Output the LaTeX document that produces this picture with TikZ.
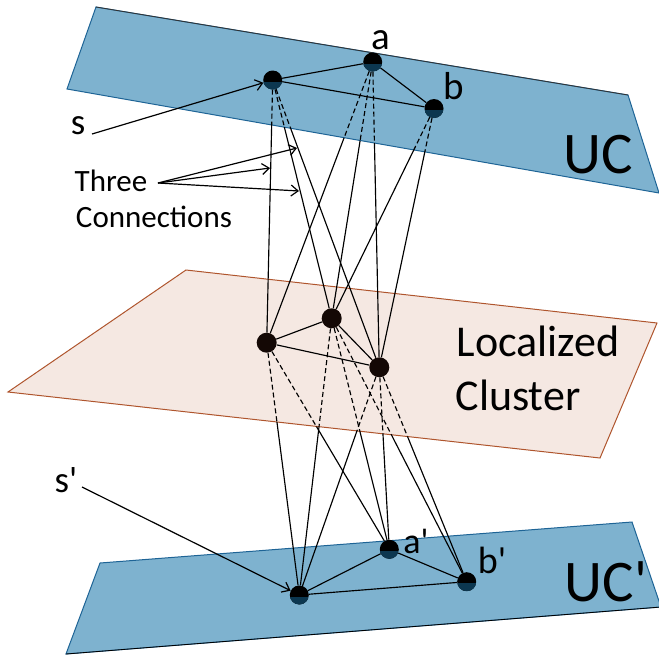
\documentclass[tikz,border=0pt]{standalone}
\usepackage{fontspec}
\newfontfamily\calfont{Carlito}
\usetikzlibrary{arrows.meta}
\pgfdeclarelayer{planes}
\pgfdeclarelayer{links}
\pgfsetlayers{planes,links,main}
\definecolor{planeblue}{RGB}{126,178,207}
\definecolor{planeedge}{RGB}{30,100,150}
\definecolor{clusterfill}{RGB}{245,232,226}
\definecolor{clusteredge}{RGB}{175,85,45}
\definecolor{nodeblue}{RGB}{12,55,80}
\definecolor{nodedark}{RGB}{20,8,5}
\begin{document}
\begin{tikzpicture}[x=1pt,y=-1pt,
  dotT/.style={circle,inner sep=0pt,minimum size=19pt,fill=black,
    path picture={\fill[nodeblue] ([yshift=-1.5pt]path picture bounding box.west) rectangle (path picture bounding box.south east);}},
  dotM/.style={circle,inner sep=0pt,minimum size=20pt,fill=nodedark},
  edge/.style={line width=1.15pt,draw=black},
  hid/.style={edge,dash pattern=on 5pt off 3pt},
  txt/.style={font={\calfont\fontsize{#1}{#1}\selectfont},inner sep=0pt},
  ptr/.style={line width=1.2pt,-{Straight Barb[length=7pt,width=11pt]}},
  bluePlane/.style={fill=planeblue,draw=planeedge,line width=1pt},
  clusterPlane/.style={fill=clusterfill,draw=clusteredge,line width=1pt}]
\useasboundingbox (0,0) rectangle (659,656);

% ---- nodes ----
\node[dotT] (s)  at (272.7,80)  {};
\node[dotT] (a)  at (372.7,62)  {};
\node[dotT] (b)  at (434,108.5) {};
\node[dotM] (m1) at (266.7,342.7) {};
\node[dotM] (m2) at (331.7,318.3) {};
\node[dotM] (m3) at (379.3,367.3) {};
\node[dotT] (sp) at (299.3,595) {};
\node[dotT] (ap) at (389.3,549.3) {};
\node[dotT] (bp) at (466.7,581.7) {};

% ---- planes ----
\begin{pgfonlayer}{planes}
  \path[bluePlane] (96,7) -- (628,95) -- (659,193) -- (67,89) -- cycle;
  \draw[line width=0.8pt,black!80] (96,7) -- (628,95);
  \path[clusterPlane] (186,270) -- (657,323) -- (600,458) -- (8,392) -- cycle;
  \path[bluePlane] (100,563) -- (632,522) -- (661,607) -- (66,654) -- cycle;
  \draw[line width=0.8pt,black] (661,607) -- (66,654);
\end{pgfonlayer}

% ---- links ----
\def\uplinks{s/m1,s/m2,s/m3,a/m1,a/m2,a/m3,b/m2,b/m3}
\def\downlinks{m1/sp,m1/ap,m2/sp,m2/ap,m2/bp,m3/sp,m3/ap,m3/bp}
\begin{pgfonlayer}{links}
  \begin{scope}
    \clip (0,0) -- (659,0) -- (659,193) -- (0,77.2) -- cycle;
    \foreach \u/\v in \uplinks {\draw[hid] (\u) -- (\v);}
  \end{scope}
  \begin{scope}
    \clip (0,77.2) -- (659,193) -- (659,656) -- (0,656) -- cycle;
    \foreach \u/\v in \uplinks {\draw[edge] (\u) -- (\v);}
  \end{scope}
  \begin{scope}
    \clip (0,0) -- (659,0) -- (659,464.6) -- (0,391.1) -- cycle;
    \foreach \u/\v in \downlinks {\draw[hid] (\u) -- (\v);}
  \end{scope}
  \begin{scope}
    \clip (0,391.1) -- (659,464.6) -- (659,656) -- (0,656) -- cycle;
    \foreach \u/\v in \downlinks {\draw[edge] (\u) -- (\v);}
  \end{scope}
  \draw[edge] (s) -- (a) -- (b) -- (s);
  \draw[edge] (m1) -- (m2) -- (m3) -- (m1);
  \draw[edge] (sp) -- (ap) -- (bp) -- (sp);
\end{pgfonlayer}

% ---- labels ----
\node[txt=39] (la) at (381,40) {a};
\node[txt=39] (lb) at (454,86) {b};
\node[txt=59] (luc) at (598,155) {UC};
\node[txt=37] (ls) at (78,126) {s};
\node[txt=31] (lthree) at (111,181) {Three};
\node[txt=31] (lconn) at (154,217) {Connections};
\node[txt=44] (lloc) at (538,341) {Localized};
\node[txt=44] (lclu) at (518,395) {Cluster};
\node[txt=37] (lsp) at (66,480) {s'};
\node[txt=36] (lap) at (416,541) {a'};
\node[txt=38] (lbp) at (492,560) {b'};
\node[txt=59] (lucp) at (606,582) {UC'};

% ---- pointer arrows ----
\coordinate (sA) at (92,134);
\draw[ptr] (sA) -- (s);
\coordinate (tA) at (158,183);
\coordinate (t1) at (297,148);
\coordinate (t2) at (270,168);
\coordinate (t3) at (299,191);
\draw[ptr] (tA) -- (t1);
\draw[ptr] (tA) -- (t2);
\draw[ptr] (tA) -- (t3);
\coordinate (spA) at (82,487);
\draw[ptr] (spA) -- (sp);
\end{tikzpicture}
\end{document}
